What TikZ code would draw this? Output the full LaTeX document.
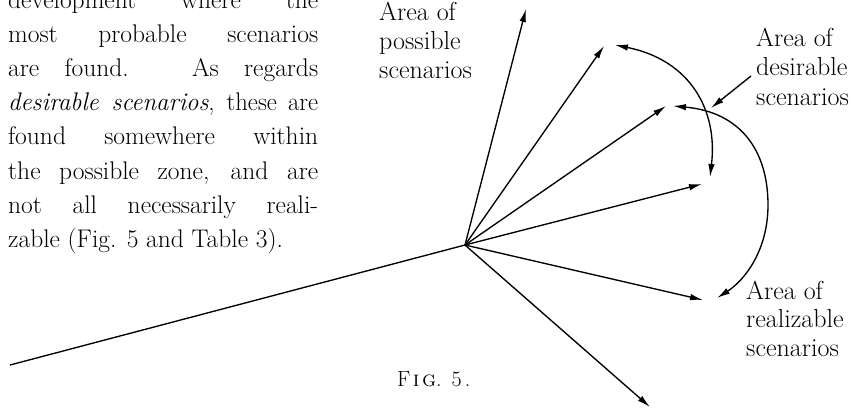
\documentclass[tikz,border=0pt]{standalone}
\usetikzlibrary{arrows.meta}
\hbadness=10000
\hfuzz=20pt
\begin{document}
\begin{tikzpicture}[x=1pt,y=-1pt,
  ln/.style={line width=1.35pt},
  tip/.style={-{Latex[length=13pt,width=6.5pt]}},
  arr/.style={ln,tip},
  dbl/.style={ln,{Latex[length=13pt,width=6.5pt]}-{Latex[length=13pt,width=6.5pt]}},
  body/.style={anchor=base west,inner sep=0pt,font=\fontsize{25.5}{34}\selectfont},
  lbl/.style={anchor=base west,inner sep=0pt,font=\fontsize{26}{30}\selectfont}]
\useasboundingbox (0,0) rectangle (857,408);

% body text
\node[body] (t0) at (8,8.5)   {\makebox[310pt][s]{development where the}};
\node[body] (t1) at (8,42.6)  {\makebox[310pt][s]{most probable scenarios}};
\node[body] (t2) at (8,76.7)  {\makebox[310pt][s]{are found. As regards}};
\node[body] (t3) at (8,110.8) {\scalebox{0.97}[1]{\makebox[319.6pt][s]{\textit{desirable scenarios}, these are}}};
\node[body] (t4) at (8,144.9) {\makebox[310pt][s]{found somewhere within}};
\node[body] (t5) at (8,179)   {\makebox[310pt][s]{the possible zone, and are}};
\node[body] (t6) at (8,213.1) {\makebox[310pt][s]{not all necessarily reali-}};
\node[body] (t7) at (8,247.2) {zable (Fig. 5 and Table 3).};

% points
\coordinate (H) at (465,245);
\coordinate (L) at (10,365);
\coordinate (a1) at (526,9);
\coordinate (a2) at (604,46);
\coordinate (a3) at (666,106);
\coordinate (a4) at (702,184);
\coordinate (a5) at (703,300);
\coordinate (a6) at (650,407);

\draw[ln] (L) -- (H);
\foreach \t in {a1,a2,a3,a4,a5,a6} \draw[arr] (H) -- (\t);

% desirable arc
\coordinate (d1) at (615,45);
\coordinate (d2) at (710,177);
\draw[dbl] (d1) .. controls (690,60) and (718,110) .. (d2);

% realizable arc
\coordinate (r1) at (673,106);
\coordinate (rm) at (768,205);
\coordinate (r2) at (717,298);
\draw[ln,{Latex[length=13pt,width=6.5pt]}-] (r1) .. controls (740,112) and (768,150) .. (rm);
\draw[arr] (rm) .. controls (768,250) and (745,280) .. (r2);

% labels
\node[lbl] (p1) at (379,20) {Area of};
\node[lbl] (p2) at (379,49) {possible};
\node[lbl] (p3) at (379,78) {scenarios};

\node[lbl] (s1) at (756,46) {Area of};
\node[lbl] (s2) at (756,75.5) {desirable};
\node[lbl] (s3) at (756,105) {scenarios};
\coordinate (sb) at (751,76);
\coordinate (sa) at (711,108);
\draw[arr] (sb) -- (sa);

\node[lbl] (z1) at (746,299) {Area of};
\node[lbl] (z2) at (746,327.5) {realizable};
\node[lbl] (z3) at (746,356) {scenarios};

\node[anchor=base west,inner sep=0pt,font=\fontsize{22}{26}\selectfont] (fig) at (397,386)
  {F\kern2.5pt{\scshape i}\kern2.5pt{\scshape g}.\hspace{10pt}5\kern3pt.};
\end{tikzpicture}
\end{document}
